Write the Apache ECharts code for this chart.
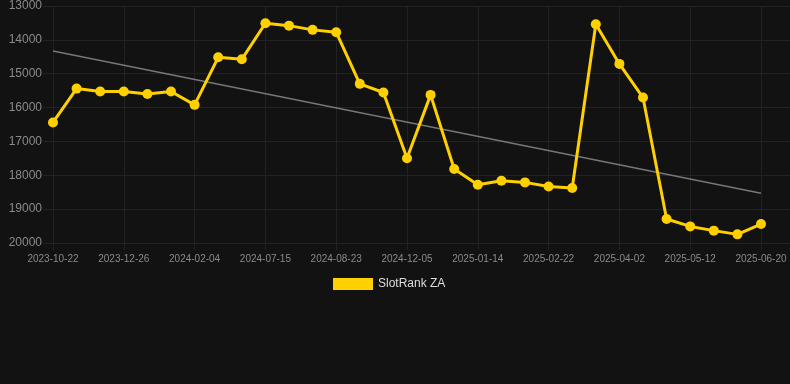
<!DOCTYPE html>
<html>
<head>
<meta charset="utf-8">
<script src="https://cdn.jsdelivr.net/npm/echarts@6/dist/echarts.min.js"></script>
<style>
  html, body { margin: 0; padding: 0; background: #121212; }
  #slotRankChart { width: 790px; height: 384px; }
</style>
</head>
<body>
<div id="slotRankChart"></div>
<script>
// dates on the x axis (every third one is labelled)
const dates = [
  '2023-10-22', '2023-11-13', '2023-12-04', '2023-12-26', '2024-01-09', '2024-01-22',
  '2024-02-04', '2024-03-29', '2024-05-22', '2024-07-15', '2024-07-28', '2024-08-10',
  '2024-08-23', '2024-09-27', '2024-10-31', '2024-12-05', '2024-12-18', '2025-01-01',
  '2025-01-14', '2025-01-27', '2025-02-09', '2025-02-22', '2025-03-07', '2025-03-20',
  '2025-04-02', '2025-04-15', '2025-04-28', '2025-05-12', '2025-05-25', '2025-06-07',
  '2025-06-20',
];

// rank values (axis is inverted, smaller = higher)
const rankZA = [
  16440, 15440, 15525, 15525, 15600, 15525,
  15920, 14515, 14575, 13510, 13580, 13705,
  13775, 15300, 15555, 17495, 15625, 17815,
  18280, 18160, 18210, 18330, 18375, 13540,
  14710, 15705, 19290, 19510, 19635, 19745,
  19440,
];

// trend line, only the two ends
const trendStart = 14330;
const trendEnd = 18530;
const trendLine = dates.map((d, i) => {
  if (i === 0) return trendStart;
  if (i === dates.length - 1) return trendEnd;
  return null;
});

const yTicks = {min: 13000, max: 20000, interval: 1000};

const gridColor = '#222222';
const labelColor = '#8a8a8a';
const yellow = '#ffd000';

const myChart = echarts.init(document.getElementById('slotRankChart'), null, {renderer: 'canvas'});

const option = {
  backgroundColor: '#121212',
  animation: false,
  textStyle: {
    fontFamily: 'Liberation Sans, Arial, sans-serif',
  },
  legend: {
    left: 328,
    top: 273,
    icon: 'rect',
    itemWidth: 40,
    itemHeight: 12,
    itemGap: 10,
    textStyle: {
      color: '#dddddd',
      fontSize: 12,
    },
    data: ['SlotRank ZA'],
  },
  grid: [
    {left: 53, right: 29, top: 6, bottom: 141},
    // wider grid only for the horizontal lines and y labels
    {left: 43, right: 0, top: 6, bottom: 141},
  ],
  xAxis: [
    {
      type: 'category',
      gridIndex: 0,
      boundaryGap: false,
      data: dates,
      axisLine: {show: false},
      axisTick: {
        show: true,
        interval: 2,
        length: 7,
        lineStyle: {color: gridColor},
      },
      axisLabel: {
        interval: 2,
        color: labelColor,
        fontSize: 10,
        margin: 11,
      },
      splitLine: {
        show: true,
        interval: 2,
        lineStyle: {color: gridColor, width: 1},
      },
    },
    {
      type: 'category',
      gridIndex: 1,
      show: false,
      data: dates,
    },
  ],
  yAxis: [
    {
      type: 'value',
      gridIndex: 0,
      inverse: true,
      min: yTicks.min,
      max: yTicks.max,
      interval: yTicks.interval,
      axisLine: {show: false},
      axisTick: {show: false},
      axisLabel: {show: false},
      splitLine: {show: false},
    },
    {
      type: 'value',
      gridIndex: 1,
      inverse: true,
      min: yTicks.min,
      max: yTicks.max,
      interval: yTicks.interval,
      axisLine: {show: false},
      axisTick: {show: false},
      axisLabel: {
        color: labelColor,
        fontSize: 12,
        margin: 1,
        formatter: (v) => String(v),
      },
      splitLine: {
        show: true,
        lineStyle: {color: gridColor, width: 1},
      },
    },
  ],
  series: [
    {
      name: 'trend',
      type: 'line',
      xAxisIndex: 0,
      yAxisIndex: 0,
      data: trendLine,
      connectNulls: true,
      symbol: 'none',
      lineStyle: {color: '#777777', width: 1.5},
      z: 2,
      silent: true,
    },
    {
      name: 'SlotRank ZA',
      type: 'line',
      xAxisIndex: 0,
      yAxisIndex: 0,
      data: rankZA,
      symbol: 'circle',
      symbolSize: 10,
      color: yellow,
      itemStyle: {color: yellow},
      lineStyle: {color: yellow, width: 3},
      z: 3,
    },
  ],
};

myChart.setOption(option);
</script>
</body>
</html>
